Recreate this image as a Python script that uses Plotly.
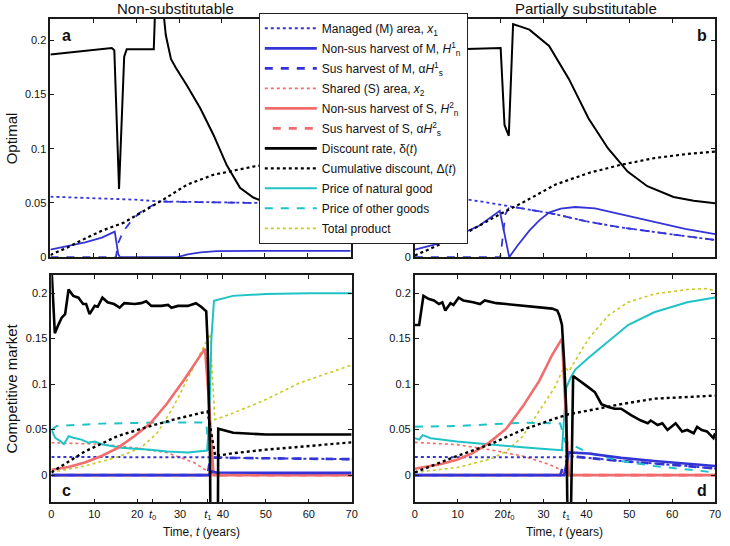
import plotly.graph_objects as go

FONT = "Liberation Sans, Arial, Helvetica, sans-serif"
W, H = 730, 546

# ---------------- legend / series names ----------------
names = [
    "Managed (M) area, <i>x</i><sub>1</sub>",
    "Non-sus harvest of M, <i>H</i><sup>1</sup><sub>n</sub>",
    "Sus harvest of M, α<i>H</i><sup>1</sup><sub>s</sub>",
    "Shared (S) area, <i>x</i><sub>2</sub>",
    "Non-sus harvest of S, <i>H</i><sup>2</sup><sub>n</sub>",
    "Sus harvest of S, α<i>H</i><sup>2</sup><sub>s</sub>",
    "Discount rate, δ(<i>t</i>)",
    "Cumulative discount, Δ(<i>t</i>)",
    "Price of natural good",
    "Price of other goods",
    "Total product",
]

# ---------------- panel a : optimal, non-substitutable ----------------
a_delta_t = [0, 5, 10, 14.3, 14.9, 16.0, 17.2, 17.8, 24.1, 24.5, 26.0, 26.9, 28.1, 29.2, 31.9, 35.0, 38.0, 41.1, 44.2, 47.3, 52, 58, 64, 70]
a_delta = [0.187, 0.189, 0.191, 0.193, 0.191, 0.063, 0.185, 0.192, 0.192, 0.24, 0.24, 0.205, 0.183, 0.175, 0.158, 0.137, 0.113, 0.085, 0.064, 0.055, 0.048, 0.044, 0.042, 0.041]
a_Delta_t = [0, 4, 8, 12, 17.2, 21.8, 26.4, 31.9, 38, 47.3, 55, 62, 70]
a_Delta = [0.002, 0.009, 0.017, 0.0244, 0.032, 0.0427, 0.0533, 0.067, 0.076, 0.0836, 0.088, 0.091, 0.093]
a_x1_t = [0, 10, 20, 25, 35, 45, 55, 70]
a_x1 = [0.0558, 0.0547, 0.0530, 0.0515, 0.0507, 0.0500, 0.0496, 0.049]
a_Hn1_t = [0, 4, 8.1, 12, 15.0, 15.8, 16.2, 29.6, 32, 35, 38.8, 50, 70]
a_Hn1 = [0.007, 0.010, 0.0137, 0.018, 0.0235, 0.003, 0, 0, 0.0025, 0.0045, 0.0056, 0.0058, 0.0058]
a_Hs1_t = [0, 15.3, 15.7, 17, 18.9, 20.5, 22.7, 25.8, 35, 45, 55, 70]
a_Hs1 = [0, 0, 0.012, 0.024, 0.0335, 0.040, 0.0457, 0.0512, 0.0507, 0.0500, 0.0496, 0.049]

# ---------------- panel b : optimal, partially substitutable ----------------
b_delta_t = [0, 10, 20.0, 20.9, 21.9, 22.9, 24.5, 26.7, 31.3, 35.9, 40.5, 45.0, 49.6, 54.2, 60.3, 65, 70]
b_delta = [0.19, 0.192, 0.193, 0.122, 0.112, 0.215, 0.213, 0.210, 0.195, 0.1645, 0.128, 0.1005, 0.079, 0.0655, 0.0555, 0.052, 0.0497]
b_Delta_t = [0, 5, 12.2, 19.8, 25.1, 32.8, 40.5, 48.1, 55.8, 63, 70]
b_Delta = [0.0015, 0.010, 0.0229, 0.0396, 0.0503, 0.067, 0.0777, 0.0853, 0.0914, 0.095, 0.0975]
b_x1_t = [0, 11.2, 22.1, 32.8, 40, 48.1, 60, 70]
b_x1 = [0.058, 0.054, 0.047, 0.0396, 0.033, 0.0274, 0.021, 0.0158]
b_Hn1_t = [0, 5, 9.9, 15, 19.8, 20.6, 22.0, 24, 26.7, 29, 31.3, 34, 37.4, 42.0, 48.1, 55.8, 63, 70]
b_Hn1 = [0.007, 0.012, 0.0198, 0.029, 0.0427, 0.028, 0, 0.011, 0.0244, 0.034, 0.0411, 0.0448, 0.0463, 0.0451, 0.0396, 0.032, 0.026, 0.0213]
b_Hs1_t = [0, 19.9, 20.3, 21.1, 22.1, 32.8, 40, 48.1, 60, 70]
b_Hs1 = [0, 0, 0.012, 0.0396, 0.047, 0.0396, 0.033, 0.0274, 0.021, 0.0158]

# ---------------- panel c : competitive market, non-substitutable ----------------
c_delta_t = [0, 0.8, 1.7, 2.4, 3.2, 4.0, 5.1, 6.3, 7.4, 8.1, 8.9, 10.1, 10.8, 11.9, 13.1, 14.6, 15.9, 17.0, 19.4, 20.9, 22.1, 23.3, 25.6, 27.2, 28.0, 29.5, 31.8, 33.7, 34.9, 36.1, 36.4, 37.0, 37.2, 38.7, 38.9, 42.4, 50, 60, 70]
c_delta = [0.23, 0.156, 0.166, 0.173, 0.177, 0.204, 0.197, 0.195, 0.188, 0.188, 0.177, 0.186, 0.185, 0.195, 0.190, 0.188, 0.184, 0.189, 0.188, 0.189, 0.191, 0.186, 0.186, 0.187, 0.184, 0.186, 0.186, 0.189, 0.185, 0.180, 0.148, 0.017, -0.2, -0.2, 0.051, 0.0465, 0.0447, 0.0446, 0.0446]
c_Delta_t = [0, 7.8, 15.5, 23.1, 29.3, 36.4, 38.2, 42.3, 50, 60, 70]
c_Delta = [0.003, 0.026, 0.043, 0.054, 0.062, 0.070, 0.021, 0.024, 0.028, 0.032, 0.036]
c_x1_t = [0, 20, 36.5, 37.5, 50, 70]
c_x1 = [0.020, 0.0198, 0.0196, 0.0195, 0.0185, 0.0175]
c_Hn1_t = [0, 36.6, 37.4, 38.5, 50, 70]
c_Hn1 = [0, 0, 0.004, 0.0028, 0.0025, 0.0025]
c_Hs1_t = [0, 36.4, 37.0, 37.6, 50, 70]
c_Hs1 = [0, 0, 0.017, 0.0192, 0.0185, 0.0175]
c_x2_t = [0, 11.7, 19.4, 27.0, 33.2, 36.3, 37.5, 70]
c_x2 = [0.0356, 0.034, 0.030, 0.0247, 0.0138, 0.0047, 0, 0]
c_Hn2_t = [0, 4, 7.8, 11.7, 15.5, 19.4, 23.1, 27.0, 30.9, 33.9, 35.8, 36.6, 37.8, 70]
c_Hn2 = [0.006, 0.009, 0.0138, 0.021, 0.030, 0.043, 0.057, 0.079, 0.1045, 0.126, 0.139, 0.090, 0, 0]
c_Hs2_t = [0, 70]
c_Hs2 = [0, 0]
c_pn_t = [0, 0.9, 2.1, 2.9, 4.0, 5.1, 7.0, 8.6, 10.1, 11.7, 14.0, 16.3, 19.4, 23.1, 27.0, 31.8, 36.3, 36.8, 37.3, 37.9, 42.3, 50, 60, 70]
c_pn = [0.050, 0.041, 0.0374, 0.034, 0.0428, 0.041, 0.039, 0.0356, 0.037, 0.034, 0.032, 0.030, 0.029, 0.028, 0.026, 0.025, 0.027, 0.06, 0.15, 0.1916, 0.197, 0.199, 0.2, 0.2]
c_po_t = [0, 1.3, 11.7, 27, 36.1, 37.0, 37.6, 50, 70]
c_po = [0.050, 0.054, 0.0566, 0.058, 0.0577, 0.010, 0.002, 0.002, 0.002]
c_tp_t = [0, 7.8, 15.5, 20.9, 24.7, 28.5, 32.4, 35.4, 37.0, 38.1, 42.3, 50, 57.7, 70]
c_tp = [0.003, 0.010, 0.020, 0.030, 0.0465, 0.0755, 0.112, 0.141, 0.155, 0.061, 0.068, 0.083, 0.101, 0.121]

# ---------------- panel d : competitive market, partially substitutable ----------------
d_delta_t = [0, 1.0, 2.0, 3.3, 4.45, 5.6, 6.4, 7.1, 8.3, 9.0, 10.2, 11.3, 13.6, 15.2, 16.3, 19.0, 21.3, 23.6, 25.9, 28.2, 30.5, 32.0, 33.2, 33.7, 34.3, 34.8, 35.3, 35.7, 36.2, 36.9, 40.5, 42.0, 43.5, 45.1, 46.6, 48.1, 50.4, 52.7, 54.3, 55.0, 56.6, 57.7, 58.9, 60.8, 62.3, 63.5, 65.0, 65.8, 66.9, 68.1, 69.6, 70]
d_delta = [0.165, 0.165, 0.197, 0.1935, 0.192, 0.188, 0.190, 0.181, 0.189, 0.187, 0.195, 0.192, 0.190, 0.188, 0.192, 0.189, 0.188, 0.187, 0.186, 0.1845, 0.184, 0.183, 0.181, 0.1755, 0.165, 0.125, 0.071, -0.1, -0.1, 0.109, 0.0964, 0.091, 0.078, 0.0748, 0.073, 0.073, 0.066, 0.060, 0.057, 0.060, 0.055, 0.057, 0.0496, 0.057, 0.048, 0.0496, 0.046, 0.053, 0.0496, 0.048, 0.0406, 0.046]
d_Delta_t = [0, 9.8, 17.4, 25.0, 32.6, 35.9, 40.5, 48.1, 55.8, 70]
d_Delta = [0.003, 0.021, 0.0335, 0.0496, 0.062, 0.067, 0.071, 0.078, 0.084, 0.0874]
d_x1_t = [0, 20, 34.3, 35.7, 48.1, 63.5, 70]
d_x1 = [0.0198, 0.0198, 0.0197, 0.021, 0.0155, 0.010, 0.0072]
d_Hn1_t = [0, 34.8, 35.9, 40.5, 48.1, 55.8, 70]
d_Hn1 = [0, 0, 0.025, 0.0237, 0.019, 0.0155, 0.010]
d_Hs1_t = [0, 33.9, 34.8, 35.3, 35.7, 48.1, 63.5, 70]
d_Hs1 = [0, 0, 0.0137, 0.014, 0.021, 0.0155, 0.010, 0.0072]
d_x2_t = [0, 9.8, 17.4, 25.1, 31.2, 33.9, 35.0, 70]
d_x2 = [0.036, 0.0335, 0.028, 0.021, 0.012, 0.006, 0, 0]
d_Hn2_t = [0, 5.9, 9.8, 13.6, 17.4, 21.3, 25.1, 29.0, 32.0, 34.3, 35.9, 70]
d_Hn2 = [0.007, 0.012, 0.017, 0.0245, 0.036, 0.051, 0.075, 0.1036, 0.132, 0.150, 0, 0]
d_Hs2_t = [0, 70]
d_Hs2 = [0, 0]
d_pn_t = [0, 1.0, 1.8, 3.7, 9.8, 17.4, 25.1, 32.6, 34.3, 34.6, 35.3, 36.3, 37.4, 40.5, 45.1, 49.7, 55.8, 63.5, 70]
d_pn = [0.0406, 0.039, 0.044, 0.0406, 0.037, 0.0335, 0.0306, 0.028, 0.0273, 0.0496, 0.096, 0.107, 0.116, 0.129, 0.147, 0.165, 0.179, 0.190, 0.1953]
d_po_t = [0, 9.8, 25.1, 33.9, 35.0, 40.5, 48.1, 55.8, 70]
d_po = [0.0532, 0.054, 0.0576, 0.0568, 0.037, 0.0245, 0.0155, 0.010, 0.003]
d_tp_t = [0, 9.8, 17.4, 21.3, 25.1, 29.0, 32.6, 34.5, 35.3, 35.9, 40.5, 45.1, 49.7, 55.8, 63.5, 68.1, 70]
d_tp = [0.003, 0.0083, 0.0173, 0.026, 0.0424, 0.071, 0.0964, 0.116, 0.117, 0.114, 0.150, 0.1755, 0.190, 0.199, 0.204, 0.205, 0.2025]

# ---------------- axis ticks ----------------
x_ticks_top = [0, 10, 20, 30, 40, 50, 60, 70]
c_t0, c_t1 = 23.6, 36.5
d_t0, d_t1 = 22.4, 35.3
y_ticks = [0, 0.05, 0.1, 0.15, 0.2]
y_ticktext = ["0", "0.05", "0.1", "0.15", "0.2"]
y_ticktext_b = ["0", "", "", "", ""]   # the other labels sit under the legend
x_ticktext_c = ["0", "10", "20", "<i>t</i><sub>0</sub>", "30", "<i>t</i><sub>1</sub>", "40", "50", "60", "70"]

# ---------------- styles ----------------
BLUE = "#3434d6"
RED = "#f26c6c"
CYAN = "#1fc3c6"
YEL = "#c9c924"
BLK = "#000000"
DASH_A = "8px,8px"
DASH_B = "0px,8px,8px,0px"

fig = go.Figure()


def add(t, y, color, dash, width, ax, rank=None):
    fig.add_trace(go.Scatter(
        x=t, y=y, mode="lines",
        line=dict(color=color, dash=dash, width=width),
        xaxis="x" + ax, yaxis="y" + ax,
        name=names[rank] if rank is not None else None,
        showlegend=rank is not None,
        legendrank=(rank + 1) if rank is not None else None,
        legendgroup=("g%d" % rank) if rank is not None else None,
        hoverinfo="skip",
    ))


# panel a
add(a_x1_t, a_x1, BLUE, "dot", 1.8, "")
add(a_Hs1_t, a_Hs1, BLUE, DASH_A, 1.8, "")
add(a_Hn1_t, a_Hn1, BLUE, "solid", 1.8, "")
add(a_Delta_t, a_Delta, BLK, "dot", 2.2, "")
add(a_delta_t, a_delta, BLK, "solid", 2.0, "")
# panel b
add(b_x1_t, b_x1, BLUE, "dot", 1.8, "2")
add(b_Hs1_t, b_Hs1, BLUE, DASH_A, 1.8, "2")
add(b_Hn1_t, b_Hn1, BLUE, "solid", 1.8, "2")
add(b_Delta_t, b_Delta, BLK, "dot", 2.2, "2")
add(b_delta_t, b_delta, BLK, "solid", 2.0, "2")

# panel c (carries the legend entries)
add(c_x2_t, c_x2, RED, "dot", 1.6, "3", 3)
add(c_x1_t, c_x1, BLUE, "dot", 2.0, "3", 0)
add(c_Hs1_t, c_Hs1, BLUE, DASH_A, 2.6, "3", 2)
add(c_Hs2_t, c_Hs2, RED, DASH_B, 2.6, "3", 5)
add(c_tp_t, c_tp, YEL, "dot", 1.6, "3", 10)
add(c_po_t, c_po, CYAN, DASH_A, 2.0, "3", 9)
add(c_pn_t, c_pn, CYAN, "solid", 2.0, "3", 8)
add(c_Hn2_t, c_Hn2, RED, "solid", 2.6, "3", 4)
add(c_Hn1_t, c_Hn1, BLUE, "solid", 2.6, "3", 1)
add(c_Delta_t, c_Delta, BLK, "dot", 2.4, "3", 7)
add(c_delta_t, c_delta, BLK, "solid", 2.6, "3", 6)

# panel d
add(d_x2_t, d_x2, RED, "dot", 1.6, "4")
add(d_x1_t, d_x1, BLUE, "dot", 2.0, "4")
add(d_Hs1_t, d_Hs1, BLUE, DASH_A, 2.6, "4")
add(d_Hs2_t, d_Hs2, RED, DASH_B, 2.6, "4")
add(d_tp_t, d_tp, YEL, "dot", 1.6, "4")
add(d_po_t, d_po, CYAN, DASH_A, 2.0, "4")
add(d_pn_t, d_pn, CYAN, "solid", 2.0, "4")
add(d_Hn2_t, d_Hn2, RED, "solid", 2.6, "4")
add(d_Hn1_t, d_Hn1, BLUE, "solid", 2.6, "4")
add(d_Delta_t, d_Delta, BLK, "dot", 2.4, "4")
add(d_delta_t, d_delta, BLK, "solid", 2.6, "4")


def px(p):
    return p / W


def py(p):
    return 1 - p / H


axis_common = dict(
    showline=True, linecolor="#1a1a1a", linewidth=1.8, mirror="ticks",
    ticks="inside", ticklen=4, tickwidth=1.2, tickcolor="#1a1a1a",
    showgrid=False, zeroline=False, tickangle=0, ticklabeloverflow="allow",
    tickfont=dict(family=FONT, size=11, color="#111"),
)

ytop = [py(260), py(19)]
ybot = [py(508), py(278)]

fig.update_layout(
    xaxis=dict(domain=[px(48), px(352)], range=[0, 70], anchor="y", tickvals=x_ticks_top, showticklabels=False, **axis_common),
    yaxis=dict(domain=ytop, range=[0, 0.22], anchor="x", tickvals=y_ticks, ticktext=y_ticktext, **axis_common),
    xaxis2=dict(domain=[px(417), px(721)], range=[0, 70], anchor="y2", tickvals=x_ticks_top, showticklabels=False, **axis_common),
    yaxis2=dict(domain=ytop, range=[0, 0.22], anchor="x2", tickvals=y_ticks, ticktext=y_ticktext_b, **axis_common),
    xaxis3=dict(domain=[px(49), px(353)], range=[0, 70], anchor="y3",
                tickvals=[0, 10, 20, c_t0, 30, c_t1, 40, 50, 60, 70],
                ticktext=x_ticktext_c, **axis_common),
    yaxis3=dict(domain=ybot, range=[-0.03, 0.22], anchor="x3", tickvals=y_ticks, ticktext=y_ticktext, **axis_common),
    xaxis4=dict(domain=[px(417), px(721)], range=[0, 70], anchor="y4",
                tickvals=[0, 10, 20, d_t0, 30, d_t1, 40, 50, 60, 70],
                ticktext=x_ticktext_c, **axis_common),
    yaxis4=dict(domain=ybot, range=[-0.03, 0.22], anchor="x4", tickvals=y_ticks, ticktext=y_ticktext, **axis_common),
    width=W, height=H,
    margin=dict(l=0, r=0, t=0, b=0),
    paper_bgcolor="white", plot_bgcolor="white",
    font=dict(family=FONT, color="#111"),
    legend=dict(
        x=px(259), y=py(13), xanchor="left", yanchor="top",
        bgcolor="white", bordercolor="#222", borderwidth=1,
        font=dict(family=FONT, size=12, color="#111"),
        itemwidth=52, tracegroupgap=1,
    ),
    showlegend=True,
)

ann = []


def text(x, y, s, size, bold=False, angle=0):
    ann.append(dict(
        x=px(x), y=py(y), xref="paper", yref="paper", text=("<b>%s</b>" % s) if bold else s,
        showarrow=False, xanchor="center", yanchor="middle", textangle=angle,
        font=dict(family=FONT, size=size, color="#111"),
    ))


text(175, 9, "Non-substitutable", 15)
text(590, 9, "Partially substitutable", 15)
text(9, 140, "Optimal", 15, angle=-90)
text(9, 393, "Competitive market", 15, angle=-90)
text(201, 538, "Time, <i>t</i> (years)", 12)
text(569, 538, "Time, <i>t</i> (years)", 12)
text(64, 36, "a", 16, bold=True)
text(708, 36, "b", 16, bold=True)
text(64, 496, "c", 16, bold=True)
text(708, 496, "d", 16, bold=True)
fig.update_layout(annotations=ann)

# remove the page's default body margin so the figure sits at the window origin
fig.write_html(
    "out.html",
    config={"displayModeBar": False},
    post_script="document.body.style.margin='0px';document.body.style.overflow='hidden';",
)
